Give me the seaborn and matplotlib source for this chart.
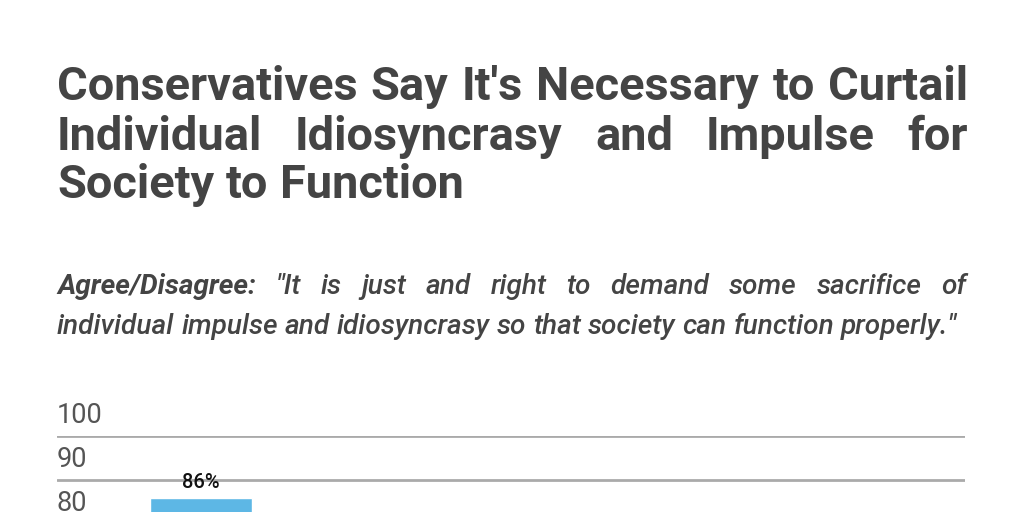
import matplotlib
matplotlib.use("Agg")
import matplotlib.pyplot as plt
import matplotlib.transforms as mtransforms
import pandas as pd
import seaborn as sns

# data (only the first bar is visible in the cropped view)
groups = ["Conservatives", "Moderates", "Liberals"]
agree_pct = [86, 66, 51]
y_ticks = [80, 90, 100]

title_lines = [
    "Conservatives Say It's Necessary to Curtail",
    "Individual Idiosyncrasy and Impulse for",
    "Society to Function",
]
subtitle_lead = "Agree/Disagree:"
subtitle_lines = [
    "\"It is just and right to demand some sacrifice of",
    "individual impulse and idiosyncrasy so that society can function properly.\"",
]

BAR_COLOR = "#5db7e5"
TEXT_COLOR = "#444444"
W, H = 1024, 512

sns.set_theme(style="white")
plt.rcParams["font.family"] = ["Roboto", "DejaVu Sans"]

fig = plt.figure(figsize=(10.24, 5.12), dpi=100)
renderer = fig.canvas.get_renderer()


def put_line(words, y_px, x0, x1, justify, **kw):
    # words: list of (text, extra style dict); placed one by one so the line can be justified
    arts = []
    for w, st in words:
        t = fig.text(0, 1 - y_px / H, w, va="baseline", ha="left", **{**kw, **st})
        arts.append(t)
    widths = [a.get_window_extent(renderer).width for a in arts]
    if justify and len(arts) > 1:
        gap = (x1 - x0 - sum(widths)) / (len(arts) - 1)
    else:
        space = fig.text(0, 0, "a a", **kw)
        single = fig.text(0, 0, "aa", **kw)
        gap = space.get_window_extent(renderer).width - single.get_window_extent(renderer).width
        space.remove()
        single.remove()
    x = x0
    for a, wd in zip(arts, widths):
        a.set_x(x / W)
        x += wd + gap


title_kw = dict(fontsize=33.8, fontweight="bold", color=TEXT_COLOR)
for i, (line, yb) in enumerate(zip(title_lines, [100, 150, 198])):
    put_line([(w, {}) for w in line.split()], yb, 57, 968, justify=i < 2, **title_kw)

sub_kw = dict(fontsize=20.2, fontstyle="italic", fontweight="medium", color=TEXT_COLOR)
first = [(w, {"fontweight": "bold"}) for w in subtitle_lead.split()]
first += [(w, {}) for w in subtitle_lines[0].split()]
put_line(first, 294, 57, 966, justify=True, **sub_kw)
put_line([(w, {}) for w in subtitle_lines[1].split()], 334, 57, 966, justify=False, **sub_kw)

# axes runs below the visible figure (the chart is cropped at the bottom)
ax_h = 440 / H
ax = fig.add_axes([57 / W, (H - 436) / H - ax_h, 908 / W, ax_h])

df = pd.DataFrame({"group": groups, "pct": agree_pct})
sns.barplot(data=df, x="group", y="pct", color=BAR_COLOR, width=0.337,
            saturation=1, ax=ax)
for c in ax.containers:
    ax.bar_label(c, labels=[f"{v:.0f}%" for v in c.datavalues], padding=4,
                 fontsize=14.5, fontweight="medium", color="#111111")

ax.set_ylim(0, 100)
ax.set_xlim(-0.476, 2.524)
ax.set_yticks(y_ticks, [str(v) for v in y_ticks])
ax.yaxis.grid(True, color="#aaaaaa", linewidth=2)
ax.set_axisbelow(True)
ax.tick_params(axis="y", length=0, pad=0, labelsize=19.5, labelcolor="#555555")
ax.tick_params(axis="x", length=0, labelbottom=False)
off = mtransforms.ScaledTranslation(0, 5 / 72, fig.dpi_scale_trans)
for t in ax.get_yticklabels():
    t.set_ha("left")
    t.set_va("bottom")
    t.set_transform(t.get_transform() + off)
ax.set_xlabel("")
ax.set_ylabel("")
for s in ax.spines.values():
    s.set_visible(False)

fig.savefig("out.png", dpi=100)
